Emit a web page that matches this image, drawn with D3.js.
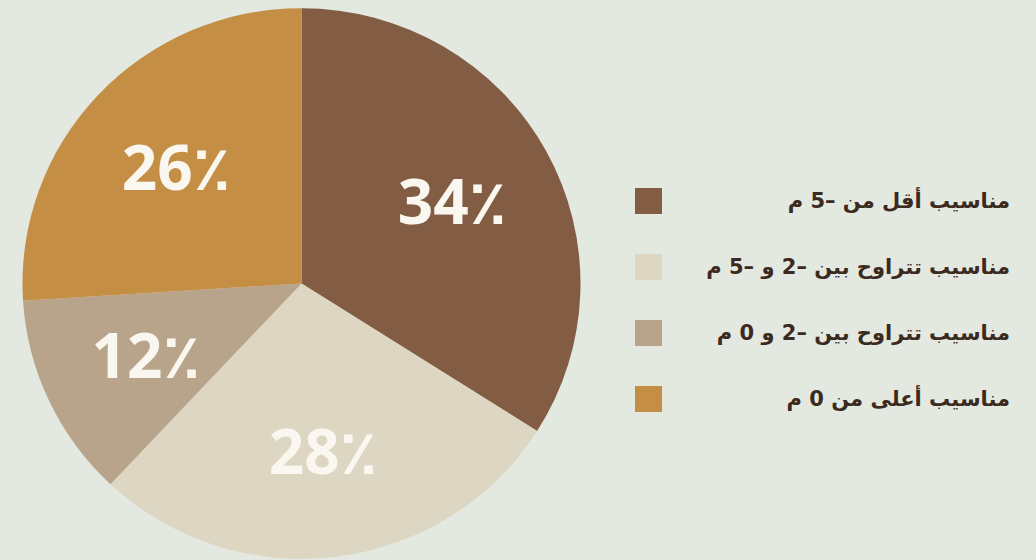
<!DOCTYPE html>
<html>
<head>
<meta charset="utf-8">
<script src="https://cdn.jsdelivr.net/npm/d3@7"></script>
<style>
  html, body { margin: 0; padding: 0; background: #e3e8e0; }
  svg { display: block; }
</style>
</head>
<body>
<svg id="chart" width="1036" height="560"></svg>
<script>
const categories = [
  "مناسيب أقل من  –5 م",
  "مناسيب تتراوح بين –2 و –5 م",
  "مناسيب تتراوح بين –2 و 0 م",
  "مناسيب أعلى من  0 م"
];
const values = [34, 28, 12, 26];
const labels = ["34٪", "28٪", "12٪", "26٪"];
const colors = ["#825d44", "#ddd6c2", "#b8a38b", "#c48e44"];

const svg = d3.select("#chart");
svg.append("rect").attr("width", 1036).attr("height", 560).attr("fill", "#e3e8e0");

const R = 279, cx = 301.5, cy = 283.5;
const g = svg.append("g").attr("transform", `translate(${cx},${cy}) scale(1,0.987)`);

const pie = d3.pie().sort(null).value(d => d).startAngle(0).endAngle(2 * Math.PI);
const arcs = pie(values);
const arc = d3.arc().innerRadius(0).outerRadius(R);
const labelArc = d3.arc().innerRadius(172).outerRadius(172);

g.selectAll("path.slice").data(arcs).join("path")
  .attr("class", "slice")
  .attr("d", arc)
  .attr("fill", (d, i) => colors[i]);

g.selectAll("text.pct").data(arcs).join("text")
  .attr("class", "pct")
  .attr("transform", d => { const c = labelArc.centroid(d); return `translate(${c[0]},${c[1]}) scale(1,${1/0.987})`; })
  .attr("text-anchor", "middle")
  .attr("dy", "0.36em")
  .attr("fill", "#faf7f0")
  .attr("font-family", "'Open Sans', 'DejaVu Sans', sans-serif")
  .attr("font-weight", 700)
  .attr("font-size", 62)
  .text((d, i) => labels[i]);

// legend
const legendY = d3.scalePoint().domain(d3.range(categories.length)).range([201, 399]);
const leg = svg.append("g");
const rows = leg.selectAll("g.row").data(categories).join("g").attr("class", "row")
  .attr("transform", (d, i) => `translate(0,${legendY(i)})`);
rows.append("rect")
  .attr("x", 635).attr("y", -13).attr("width", 27).attr("height", 26)
  .attr("fill", (d, i) => colors[i]);
rows.append("text")
  .attr("x", 1010).attr("y", 0).attr("dy", "0.32em")
  .attr("direction", "rtl")
  .style("unicode-bidi", "embed")
  .attr("text-anchor", "start")
  .attr("fill", "#3b2a1e")
  .attr("font-family", "'DejaVu Sans', sans-serif")
  .attr("font-weight", 700)
  .attr("font-size", 21)
  .text(d => d);
</script>
</body>
</html>
